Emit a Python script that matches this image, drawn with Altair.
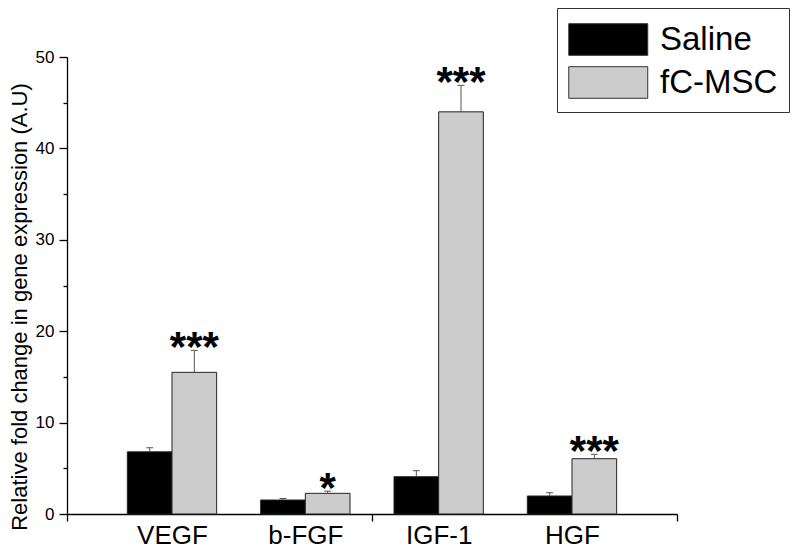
import altair as alt
import pandas as pd

genes = ["VEGF", "b-FGF", "IGF-1", "HGF"]
groups = ["Saline", "fC-MSC"]
saline_vals = [6.8, 1.53, 4.08, 1.97]
saline_err = [0.45, 0.17, 0.66, 0.36]
msc_vals = [15.5, 2.26, 44.0, 6.05]
msc_err = [2.4, 0.24, 2.9, 0.48]
stars = ["***", "*", "***", "***"]
colors = ["#000000", "#cccccc"]

BAR_W = 0.335
rows = []
for i, g in enumerate(genes):
    c = i + 1
    for j, (grp, vals, errs) in enumerate(zip(groups, [saline_vals, msc_vals], [saline_err, msc_err])):
        x0 = c - BAR_W + j * BAR_W
        rows.append(dict(gene=g, group=grp, value=vals[i], top=vals[i] + errs[i],
                         x=x0, x2=x0 + BAR_W, xc=x0 + BAR_W / 2,
                         cl=x0 + BAR_W / 2 - 0.026, cr=x0 + BAR_W / 2 + 0.026,
                         star=stars[i] if grp == "fC-MSC" else ""))
df = pd.DataFrame(rows)

xmin, xmax = 0.2125, 4.7875
label_expr = " : ".join(f"datum.value == {i+1} ? '{g}'" for i, g in enumerate(genes)) + " : ''"

xscale = alt.Scale(domain=[xmin, xmax], nice=False, zero=False)
yscale = alt.Scale(domain=[0, 50], nice=False)

xaxis = alt.Axis(
    values=[xmin, 1, 2, 2.5, 3, 4, xmax],
    labelExpr=label_expr,
    tickSize={"condition": {"test": "datum.value % 1 == 0", "value": 0}, "value": 7},
    labelFont="Liberation Sans", labelFontSize=26, labelPadding=8, labelColor="#000",
    domainColor="#000", tickColor="#000", domainWidth=1.3, tickWidth=1.3,
    grid=False, title=None, labelFlush=False, labelOverlap=False,
)
yaxis = alt.Axis(
    values=list(range(0, 51, 5)),
    labelExpr="datum.value % 10 == 0 ? datum.label : ''",
    tickSize={"condition": {"test": "datum.value % 10 != 0", "value": 4}, "value": 8},
    labelFont="Liberation Sans", labelFontSize=17, labelPadding=5, labelColor="#000",
    domainColor="#000", tickColor="#000", domainWidth=1.3, tickWidth=1.3,
    grid=False, title="Relative fold change in gene expression (A.U)",
    titleFont="Liberation Sans", titleFontSize=22, titleFontWeight="normal",
    titleColor="#000", titlePadding=4, titleY=249.5,
)

base = alt.Chart(df)

bars = base.mark_bar(stroke="#222", strokeWidth=1).encode(
    x=alt.X("x:Q", scale=xscale, axis=xaxis),
    x2="x2:Q",
    y=alt.Y("value:Q", scale=yscale, axis=yaxis),
    y2=alt.datum(0),
    color=alt.Color("group:N", scale=alt.Scale(domain=groups, range=colors),
                    legend=alt.Legend(
                        title=None, orient="none", legendX=490, legendY=-49,
                        direction="vertical",
                        symbolType="M-1,-0.8L3,-0.8L3,0.8L-1,0.8Z",
                        symbolSize=1560, symbolStrokeColor="#333", symbolStrokeWidth=1,
                        labelFont="Liberation Sans", labelFontSize=33, labelColor="#000",
                        labelOffset=51, rowPadding=4,
                        strokeColor="#333", padding=11, fillColor="white",
                        symbolOpacity=1,
                    )),
)

err_line = base.mark_rule(color="#555", strokeWidth=1).encode(
    x="xc:Q", y="value:Q", y2="top:Q"
)
err_cap = base.mark_rule(color="#555", strokeWidth=1).encode(
    x="cl:Q", x2="cr:Q", y="top:Q"
)
star_text = base.mark_text(
    font="Liberation Sans", fontWeight="bold", fontSize=42, color="#000",
    baseline="alphabetic", align="center", dy=11,
).encode(x="xc:Q", y="top:Q", text="star:N")

chart = alt.layer(bars, err_line, err_cap, star_text).properties(
    width=610, height=457,
    background="white",
    autosize=alt.AutoSizeParams(type="none"),
    padding={"left": 59, "top": 49, "right": 114, "bottom": 34},
).configure_view(stroke="transparent", strokeWidth=0)

chart.save("out.html", embed_options={"renderer": "svg", "actions": False})
